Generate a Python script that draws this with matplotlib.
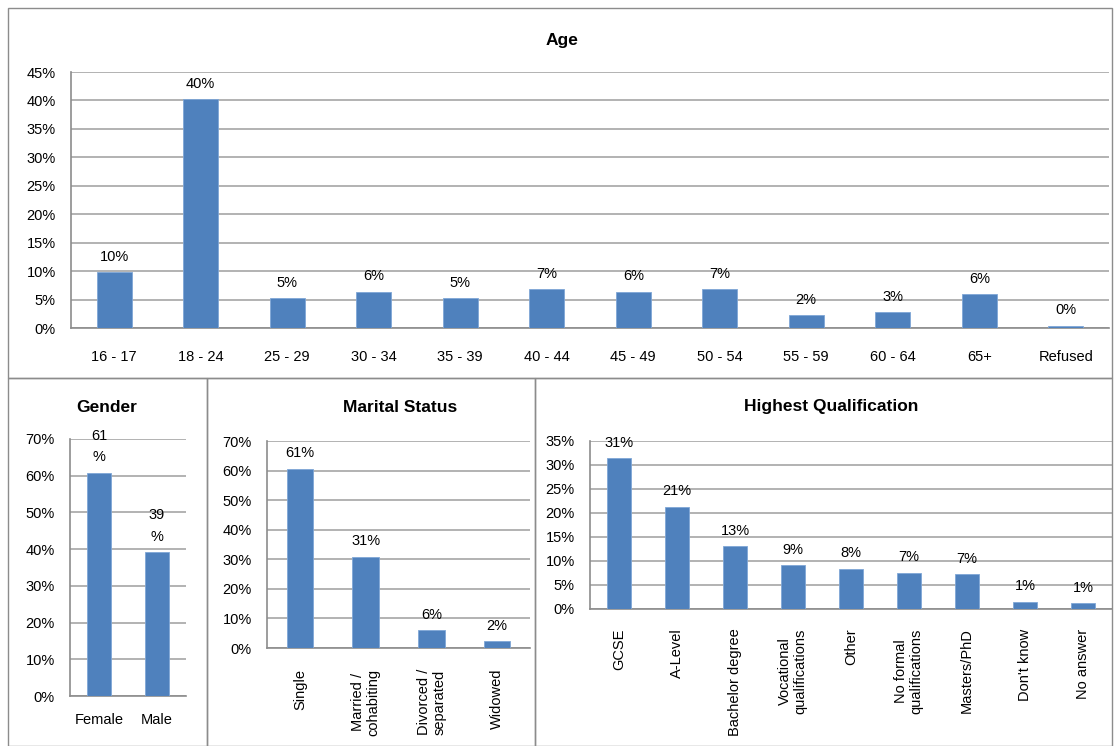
import matplotlib.pyplot as plt
from matplotlib.patches import Rectangle

# --- Datos ---
age_cats = ["16 - 17", "18 - 24", "25 - 29", "30 - 34", "35 - 39", "40 - 44",
            "45 - 49", "50 - 54", "55 - 59", "60 - 64", "65+", "Refused"]
age_vals = [9.8, 40.2, 5.3, 6.4, 5.3, 6.8, 6.4, 6.8, 2.2, 2.8, 5.9, 0.4]
age_lbls = ["10%", "40%", "5%", "6%", "5%", "7%", "6%", "7%", "2%", "3%", "6%", "0%"]

gender_cats = ["Female", "Male"]
gender_vals = [60.8, 39.2]
gender_lbls = ["61\n%", "39\n%"]

marital_cats = ["Single", "Married /\ncohabiting", "Divorced /\nseparated", "Widowed"]
marital_vals = [60.7, 30.9, 6.1, 2.4]
marital_lbls = ["61%", "31%", "6%", "2%"]

qual_cats = ["GCSE", "A-Level", "Bachelor degree", "Vocational\nqualifications", "Other",
             "No formal\nqualifications", "Masters/PhD", "Don't know", "No answer"]
qual_vals = [31.4, 21.3, 13.1, 9.1, 8.4, 7.6, 7.2, 1.5, 1.2]
qual_lbls = ["31%", "21%", "13%", "9%", "8%", "7%", "7%", "1%", "1%"]

W, H = 1117, 746
BAR = "#4F81BD"
GRID = "#A6A6A6"
FS = 10.5
plt.rcParams['font.family'] = ['Liberation Sans', 'DejaVu Sans']

fig = plt.figure(figsize=(W / 100, H / 100), dpi=100)


def box(x0, y0, x1, y1):
    # pixel coords -> fracción de figura
    return [x0 / W, 1 - y1 / H, (x1 - x0) / W, (y1 - y0) / H]


def panel(x0, y0, x1, y1):
    fig.add_artist(Rectangle((x0 / W, 1 - y1 / H), (x1 - x0) / W, (y1 - y0) / H,
                             transform=fig.transFigure, fill=False,
                             edgecolor="#8C8C8C", linewidth=1.0))


def chart(rect, cats, vals, lbls, ymax, step, title, title_xy, rot=0, pad=14, lsp=1.2):
    ax = fig.add_axes(box(*rect))
    x = range(len(cats))
    ax.bar(x, vals, width=0.4, color=BAR, edgecolor="#7FA6D6", linewidth=0.6, zorder=3)
    for i, (v, t) in enumerate(zip(vals, lbls)):
        ax.annotate(t, (i, v), xytext=(0, 6), textcoords="offset points",
                    ha="center", va="bottom", fontsize=FS, linespacing=lsp,
                    annotation_clip=False)
    ax.set_xlim(-0.5, len(cats) - 0.5)
    ax.set_ylim(0, ymax)
    ticks = list(range(0, ymax + 1, step))
    ax.set_yticks(ticks)
    ax.set_yticklabels([f"{t}%" for t in ticks], fontsize=FS)
    ax.set_xticks(list(x))
    if rot:
        ax.set_xticklabels(cats, rotation=90, fontsize=FS, va="top", ha="center",
                           linespacing=1.15)
    else:
        ax.set_xticklabels(cats, fontsize=FS)
    ax.tick_params(axis="x", length=0, pad=pad)
    ax.tick_params(axis="y", length=0, pad=11)
    ax.yaxis.grid(True, color=GRID, linewidth=1.2, zorder=0)
    ax.set_axisbelow(True)
    for s in ["top", "right"]:
        ax.spines[s].set_visible(False)
    ax.spines["left"].set_color("#8C8C8C")
    ax.spines["bottom"].set_color("#8C8C8C")
    ax.spines["left"].set_linewidth(1.2)
    ax.spines["bottom"].set_linewidth(1.2)
    ax.patch.set_alpha(0)
    fig.text(title_xy[0] / W, 1 - title_xy[1] / H, title, ha="center", va="center",
             fontsize=12.5, fontweight="bold")
    return ax


# marcos de los paneles
panel(8, 8, 1112, 378)
panel(8, 378, 207, 746)
panel(207, 378, 535, 746)
panel(535, 378, 1112, 746)

chart((71, 72, 1109, 328), age_cats, age_vals, age_lbls, 45, 5, "Age", (562, 40), pad=16)
chart((70, 439, 186, 696), gender_cats, gender_vals, gender_lbls, 70, 10, "Gender",
      (107, 407), pad=12, lsp=1.7)
chart((267, 441, 530, 648), marital_cats, marital_vals, marital_lbls, 70, 10,
      "Marital Status", (400, 407), rot=90, pad=15)
chart((590, 441, 1112, 609), qual_cats, qual_vals, qual_lbls, 35, 5,
      "Highest Qualification", (831, 407), rot=90, pad=14)

fig.savefig("out.png", dpi=100)
